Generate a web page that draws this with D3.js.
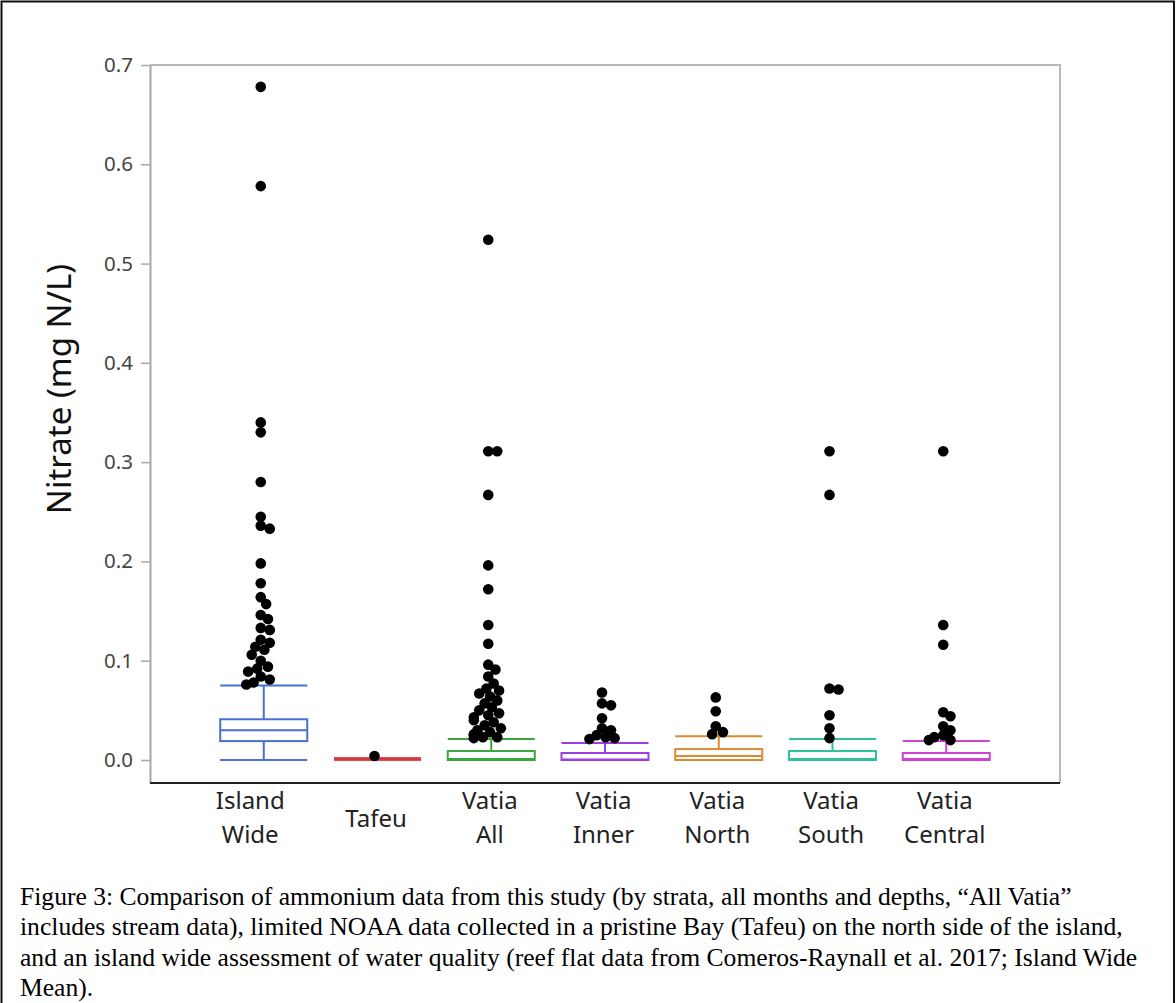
<!DOCTYPE html>
<html><head><meta charset="utf-8">
<script src="https://cdn.jsdelivr.net/npm/d3@7"></script>
<style>body{margin:0;background:#fff}svg{display:block}</style>
</head><body>
<svg id="c" width="1176" height="1003"></svg>
<script>
// ---- data ----
const categories = ["Island Wide","Tafeu","Vatia All","Vatia Inner","Vatia North","Vatia South","Vatia Central"];
const labelLines = [["Island","Wide"],["Tafeu"],["Vatia","All"],["Vatia","Inner"],["Vatia","North"],["Vatia","South"],["Vatia","Central"]];
const whiskerLow  = [0, 0.001, 0, 0, 0, 0, 0];
const q1          = [0.019, 0.001, 0, 0, 0, 0, 0];
const median      = [0.030, 0.001, 0.001, 0.0005, 0.004, 0.001, 0.001];
const q3          = [0.041, 0.001, 0.009, 0.007, 0.011, 0.009, 0.007];
const whiskerHigh = [0.075, 0.001, 0.021, 0.017, 0.024, 0.021, 0.019];
const outIslandWide = [0.678,0.578,0.340,0.330,0.280,0.245,0.236,0.233,0.198,0.178,0.164,0.157,0.146,0.142,0.133,0.131,0.121,0.118,0.114,0.111,0.106,0.100,0.094,0.092,0.089,0.084,0.081,0.078,0.076];
const outTafeu = [0.004];
const outVatiaAll = [0.524,0.311,0.311,0.267,0.196,0.172,0.136,0.117,0.096,0.091,0.084,0.077,0.072,0.070,0.067,0.064,0.060,0.057,0.053,0.050,0.047,0.045,0.043,0.040,0.038,0.035,0.032,0.030,0.028,0.026,0.025,0.023,0.023,0.022];
const outVatiaInner = [0.068,0.057,0.055,0.042,0.032,0.030,0.025,0.023,0.022,0.021];
const outVatiaNorth = [0.063,0.049,0.034,0.028,0.026];
const outVatiaSouth = [0.311,0.267,0.072,0.071,0.045,0.032,0.022];
const outVatiaCentral = [0.311,0.136,0.116,0.048,0.044,0.034,0.030,0.025,0.023,0.020,0.020];
const outliers = [outIslandWide,outTafeu,outVatiaAll,outVatiaInner,outVatiaNorth,outVatiaSouth,outVatiaCentral];
const yTicks = [0,0.1,0.2,0.3,0.4,0.5,0.6,0.7];
const colors = ["#4a6fd2","#d63a3f","#3ba63b","#9b3fe0","#dc8a30","#2fc09c","#cf42d2"];
const yTitle = "Nitrate (mg N/L)";
const captionLines = [
 "Figure 3: Comparison of ammonium data from this study (by strata, all months and depths, \u201cAll Vatia\u201d",
 "includes stream data), limited NOAA data collected in a pristine Bay (Tafeu) on the north side of the island,",
 "and an island wide assessment of water quality (reef flat data from Comeros-Raynall et al. 2017; Island Wide",
 "Mean)."
];

// ---- layout ----
const L = 150, R = 1060, T = 65, B = 783;
const svg = d3.select("#c");
svg.append("rect").attr("x",1.5).attr("y",1.5).attr("width",1172.5).attr("height",1010)
  .attr("fill","none").attr("stroke","#111").attr("stroke-width",2);

const x = d3.scalePoint().domain(categories).range([L,R]).padding(1);
const y = d3.scaleLinear().domain([-0.0232,0.7]).range([B,T]);
const step = x.step();
const bw = step*0.765;

// frame (top/right gray)
svg.append("path").attr("d",`M${L},${T}H${R}V${B}`).attr("fill","none").attr("stroke","#b9b9b9").attr("stroke-width",2);

// y axis
const ya = svg.append("g").attr("transform",`translate(${L},0)`)
  .call(d3.axisLeft(y).tickValues(yTicks).tickFormat(d3.format(".1f")).tickSize(9).tickSizeOuter(0).tickPadding(8));
ya.select(".domain").attr("stroke","#a8a8a8").attr("stroke-width",2);
ya.selectAll(".tick line").attr("stroke","#a8a8a8").attr("stroke-width",1.5);
ya.selectAll(".tick text").attr("fill","#444").style("font-family","'Noto Sans',sans-serif").style("font-size","20.5px");

// x axis
const xa = svg.append("g").attr("transform",`translate(0,${B})`)
  .call(d3.axisBottom(x).tickSize(0).tickSizeOuter(0).tickFormat(""));
xa.select(".domain").attr("stroke","#222").attr("stroke-width",2).attr("d",`M${L},0H${R}`);
xa.selectAll(".tick").each(function(d,i){
  const lines = labelLines[i];
  const t = d3.select(this).append("text").attr("fill","#222").attr("text-anchor","middle")
    .style("font-family","'Noto Sans',sans-serif").style("font-size","24px");
  const y0 = lines.length===2 ? 26 : 44;
  lines.forEach((s,j)=>t.append("tspan").attr("x", i===0 ? -14 : -2).attr("y", y0 + j*34).text(s));
});

// y title
svg.append("text").attr("transform","translate(71,389) rotate(-90)").attr("text-anchor","middle")
  .style("font-family","'Noto Sans',sans-serif").style("font-size","33px").attr("fill","#111").text(yTitle);

// boxes
const g = svg.append("g");
categories.forEach((c,i)=>{
  const cx = x(c), col = colors[i], x0 = cx-bw/2;
  const sw = i===1 ? 3 : 2;
  const gg = g.append("g").attr("stroke",col).attr("fill","none").attr("stroke-width",sw);
  gg.append("line").attr("x1",cx).attr("x2",cx).attr("y1",y(whiskerLow[i])).attr("y2",y(q1[i]));
  gg.append("line").attr("x1",cx).attr("x2",cx).attr("y1",y(q3[i])).attr("y2",y(whiskerHigh[i]));
  gg.append("line").attr("x1",x0).attr("x2",x0+bw).attr("y1",y(whiskerLow[i])).attr("y2",y(whiskerLow[i]));
  gg.append("line").attr("x1",x0).attr("x2",x0+bw).attr("y1",y(whiskerHigh[i])).attr("y2",y(whiskerHigh[i]));
  gg.append("rect").attr("x",x0).attr("width",bw).attr("y",y(q3[i])).attr("height",Math.max(0,y(q1[i])-y(q3[i])));
  gg.append("line").attr("x1",x0).attr("x2",x0+bw).attr("y1",y(median[i])).attr("y2",y(median[i]));
});

// outlier points with a simple dodge
const r = 5.3;
categories.forEach((c,i)=>{
  const cx = x(c) - 3;
  const placed = [];
  const vals = outliers[i].slice().sort((a,b)=>b-a);
  vals.forEach(v=>{
    const py = y(v);
    let best = 0;
    const cands = [0];
    for (let k=1;k<=8;k++){ cands.push(k*1.8, -k*1.8); }
    for (const dx of cands){
      const ok = placed.every(p=>Math.hypot(p[0]-(cx+dx),p[1]-py) >= 1.55*r);
      if (ok){ best = dx; break; }
      best = dx;
    }
    placed.push([cx+best,py]);
  });
  g.selectAll(null).data(placed).enter().append("circle")
    .attr("cx",d=>d[0]).attr("cy",d=>d[1]).attr("r",r).attr("fill","#000");
});

// caption
const cap = svg.append("text").attr("fill","#000").style("font-family","'Liberation Serif','Times New Roman',serif").style("font-size","25.6px");
captionLines.forEach((s,j)=>cap.append("tspan").attr("x",20).attr("y",905+j*30.4).text(s));
</script>
</body></html>
